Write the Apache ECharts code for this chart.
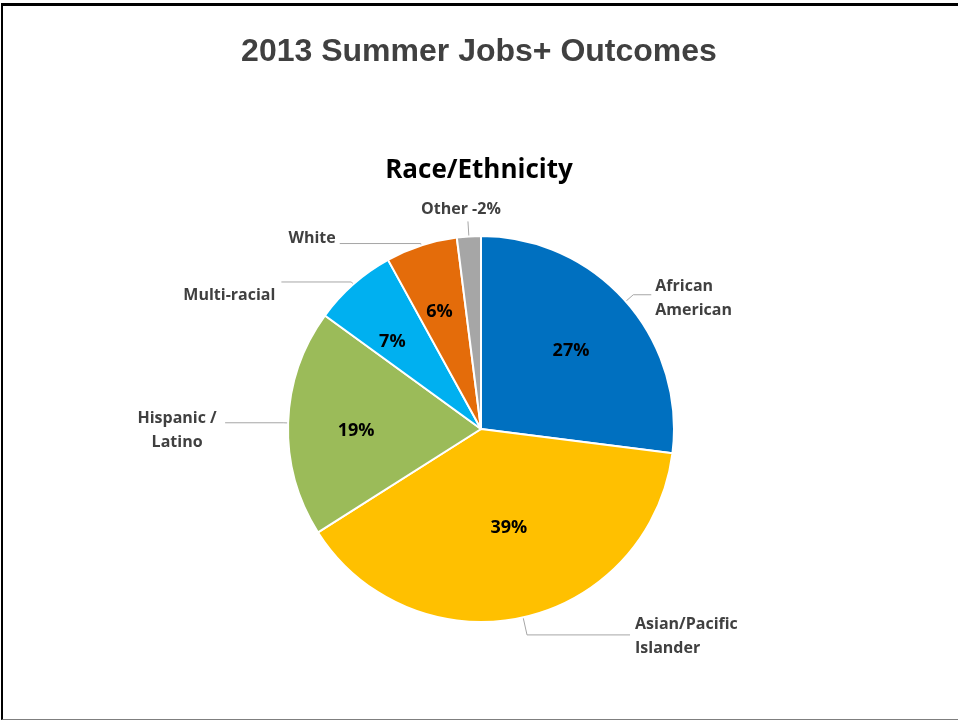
<!DOCTYPE html>
<html>
<head>
<meta charset="utf-8">
<title>2013 Summer Jobs+ Outcomes</title>
<script src="https://cdn.jsdelivr.net/npm/echarts@6/dist/echarts.min.js"></script>
<style>
  html, body { margin: 0; padding: 0; background: #fff; }
  #wrap { position: relative; width: 958px; height: 721px; }
  #chart { position: absolute; left: 0; top: 0; width: 958px; height: 721px; }
  #frame {
    position: absolute; left: 1px; top: 3px; width: 957px; height: 717px;
    box-sizing: border-box; pointer-events: none;
    border-left: 2px solid #000; border-top: 3px solid #000; border-bottom: 1px solid #7f7f7f;
  }
</style>
</head>
<body>
<div id="wrap">
  <div id="chart"></div>
  <div id="frame"></div>
</div>
<script>
// data
var categories = ['African American', 'Asian/Pacific Islander', 'Hispanic / Latino', 'Multi-racial', 'White', 'Other']
var nameLabels = ['African\nAmerican', 'Asian/Pacific\nIslander', 'Hispanic /\nLatino', 'Multi-racial', 'White', 'Other -2%']
var shares = [27, 39, 19, 7, 6, 2]
var showPct = [true, true, true, true, true, false]

// looks
var colors = ['#0070C0', '#FFC000', '#9BBB59', '#00B0F0', '#E46C0A', '#A6A6A6']
var leader = [[10, 18], [18, 103], [5, 58], [3, 70], [2, 81], [15, 0]]
var nameDx = [0, 1, -44, -2, 0, -3]
var nameDy = [4, 2, 8, 13, -5, -12]
var nameAlign = [null, null, 'center', null, null, 'center']
var pctDx = [-6, 0, 3, -4, -2, 0]
var pctDy = [7, -26, 6, 9, 5, 0]

var chart = echarts.init(document.getElementById('chart'))

var slices = categories.map(function (c, i) {
  return {
    name: c,
    value: shares[i],
    itemStyle: { color: colors[i] },
    label: { formatter: nameLabels[i] },
    labelLine: { length: leader[i][0], length2: leader[i][1] }
  }
})

var pctSlices = categories.map(function (c, i) {
  return {
    name: c,
    value: shares[i],
    label: { show: showPct[i], formatter: shares[i] + '%' }
  }
})

var option = {
  animation: false,
  title: [
    {
      text: '2013 Summer Jobs+ Outcomes',
      left: 'center',
      top: 31,
      textStyle: { fontFamily: 'Liberation Sans', fontWeight: 'bold', fontSize: 32, color: '#404040' }
    },
    {
      text: 'Race/Ethnicity',
      left: 'center',
      top: 153,
      textStyle: { fontFamily: 'Open Sans', fontWeight: 'bold', fontSize: 26, color: '#000' }
    }
  ],
  series: [
    {
      type: 'pie',
      center: [481, 429],
      radius: [0, 193],
      startAngle: 90,
      clockwise: true,
      avoidLabelOverlap: false,
      silent: true,
      itemStyle: { borderColor: '#fff', borderWidth: 2 },
      label: {
        position: 'outside',
        fontFamily: 'Open Sans',
        fontWeight: 'bold',
        fontSize: 16,
        lineHeight: 24,
        color: '#404040',
        distanceToLabelLine: 4
      },
      labelLine: { lineStyle: { color: '#A6A6A6', width: 1 } },
      labelLayout: function (p) {
        var i = p.dataIndex
        var o = { dx: nameDx[i], dy: nameDy[i] }
        if (nameAlign[i]) o.align = nameAlign[i]
        return o
      },
      data: slices
    },
    {
      // invisible ring, only there to place the % labels further out
      type: 'pie',
      center: [481, 429],
      radius: [0, 250],
      startAngle: 90,
      clockwise: true,
      silent: true,
      itemStyle: { color: 'rgba(0,0,0,0)', borderWidth: 0 },
      label: {
        position: 'inside',
        fontFamily: 'Open Sans',
        fontWeight: 'bold',
        fontSize: 18,
        color: '#000'
      },
      labelLine: { show: false },
      labelLayout: function (p) {
        return { dx: pctDx[p.dataIndex], dy: pctDy[p.dataIndex] }
      },
      data: pctSlices
    }
  ]
}

chart.setOption(option)
</script>
</body>
</html>
